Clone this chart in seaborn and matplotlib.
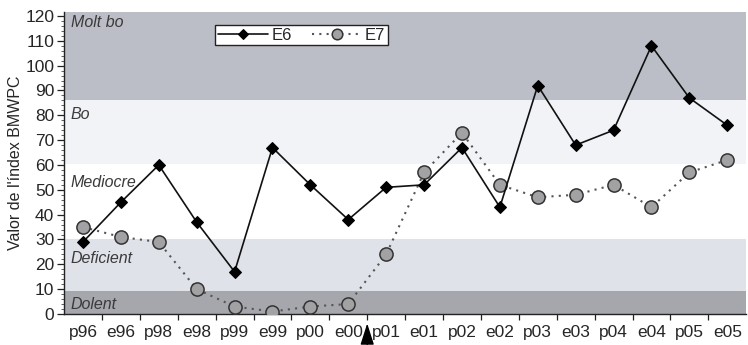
import matplotlib
matplotlib.use("Agg")
import matplotlib.pyplot as plt
import seaborn as sns
import numpy as np
import pandas as pd
from matplotlib.ticker import MultipleLocator

# Sampling campaigns (p = spring, e = summer)
campaigns = ["p96", "e96", "p98", "e98", "p99", "e99", "p00", "e00", "p01",
             "e01", "p02", "e02", "p03", "e03", "p04", "e04", "p05", "e05"]
e6_values = [29, 45, 60, 37, 17, 67, 52, 38, 51, 52, 67, 43, 92, 68, 74, 108, 87, 76]
e7_values = [35, 31, 29, 10, 3, 1, 3, 4, 24, 57, 73, 52, 47, 48, 52, 43, 57, 62]

# Quality classes of the BMWPC index: (label, lower, upper, colour)
class_names = ["Dolent", "Deficient", "Mediocre", "Bo", "Molt bo"]
class_lower = [0, 9.3, 30, 60.5, 86.3]
class_upper = [9.3, 30, 60.5, 86.3, 121.7]
class_colors = ["#a5a7ad", "#e0e2ea", "#ffffff", "#f2f3f7", "#bbbec6"]
class_label_y = [4, 22.5, 53, 80.5, 117.5]

sns.set_theme(style="white")
plt.rcParams["font.family"] = ["Liberation Sans", "DejaVu Sans"]

df = pd.DataFrame({
    "pos": list(range(len(campaigns))) * 2,
    "value": e6_values + e7_values,
    "station": ["E6"] * len(campaigns) + ["E7"] * len(campaigns),
})

fig = plt.figure(figsize=(7.48, 3.45), dpi=100)
ax = fig.add_axes([0.0856, 0.0899, 0.912, 0.876])

for name, lo, hi, col, ly in zip(class_names, class_lower, class_upper,
                                 class_colors, class_label_y):
    ax.axhspan(lo, hi, color=col, zorder=0, lw=0)
    ax.text(0.01, ly, name, transform=ax.get_yaxis_transform(),
            fontsize=11.5, style="italic", color="#3a3a3a", va="center", zorder=1)

sns.lineplot(data=df[df.station == "E6"], x="pos", y="value", ax=ax,
             color="#111111", lw=1.2, marker="D", markersize=6.5,
             markerfacecolor="black", markeredgecolor="black",
             label="E6", zorder=4)
sns.lineplot(data=df[df.station == "E7"], x="pos", y="value", ax=ax,
             color="#555555", lw=1.5, linestyle=(0, (1, 2.5)), marker="o",
             markersize=9.5, markerfacecolor="#a2a2a4", markeredgecolor="#333333",
             markeredgewidth=1.1, label="E7", zorder=3)

ax.set_xlim(-0.5, len(campaigns) - 0.5)
ax.set_ylim(0, 121.7)
ax.set_xticks(range(len(campaigns)))
ax.set_xticklabels(campaigns, fontsize=12.5)
ax.set_xticks(np.arange(0.5, len(campaigns) - 0.5, 1), minor=True)
ax.tick_params(axis="x", which="major", length=0, pad=8)
ax.tick_params(axis="x", which="minor", length=4, width=0.9, direction="out",
               color="#222222", bottom=True)
ax.yaxis.set_major_locator(MultipleLocator(10))
ax.yaxis.set_minor_locator(MultipleLocator(2))
ax.tick_params(axis="y", which="major", length=5, width=0.9, left=True,
               labelsize=12.5, pad=2, color="#222222")
ax.tick_params(axis="y", which="minor", length=2, width=0.6, left=True,
               color="#444444")
ax.set_xlabel("")
ax.set_ylabel("Valor de l'índex BMWPC", fontsize=11.5, labelpad=2)

for side in ("top", "right"):
    ax.spines[side].set_visible(False)
for side in ("left", "bottom"):
    ax.spines[side].set_color("#222222")
    ax.spines[side].set_linewidth(1.0)

leg = ax.legend(loc="upper left", bbox_to_anchor=(0.222, 0.955), ncol=2,
                frameon=True, fancybox=False, fontsize=12, handlelength=3.0,
                columnspacing=1.2, handletextpad=0.2, borderpad=0.15,
                borderaxespad=0)
leg.get_frame().set_edgecolor("#222222")
leg.get_frame().set_linewidth(1.0)
leg.get_frame().set_facecolor("white")
leg.get_frame().set_alpha(1)
leg.set_zorder(6)
for h in leg.legend_handles:
    h.set_markersize(h.get_markersize() * 0.8)

# Arrow marking the change between e00 and p01
ax.annotate("", xy=(7.5, -0.022), xytext=(7.5, -0.11),
            xycoords=("data", "axes fraction"),
            textcoords=("data", "axes fraction"),
            arrowprops=dict(arrowstyle="-|>,head_width=0.35,head_length=1.1",
                            color="black", lw=1.0),
            annotation_clip=False)

fig.savefig("out.png", dpi=100)
